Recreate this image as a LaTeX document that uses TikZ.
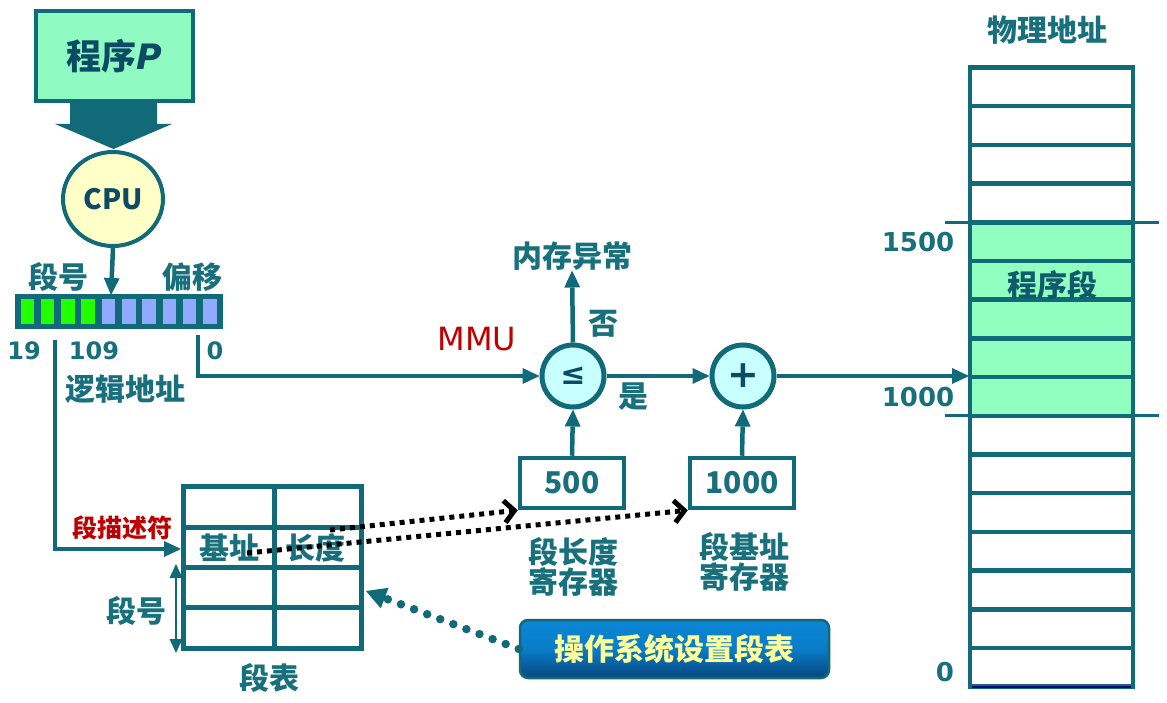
\documentclass[tikz,border=0pt]{standalone}
\usepackage{fontspec}
\setmainfont{DejaVu Sans}
\newfontfamily\cjk{Noto Sans CJK SC}
\newfontfamily\dv{DejaVu Sans}
\usetikzlibrary{arrows.meta,shapes.geometric}
\definecolor{tl}{HTML}{106A77}
\definecolor{tt}{HTML}{17707C}
\definecolor{navyt}{HTML}{0D4A63}
\definecolor{mint}{HTML}{8FFBC2}
\definecolor{memg}{HTML}{90FFC0}
\definecolor{cpuy}{HTML}{FFFFC8}
\definecolor{cyanf}{HTML}{C8FFFF}
\definecolor{gbit}{HTML}{22FF00}
\definecolor{bbit}{HTML}{8FAAFF}
\definecolor{redt}{HTML}{C00000}
\definecolor{btop}{HTML}{0A86D6}
\definecolor{bbot}{HTML}{07467C}
\definecolor{byel}{HTML}{FFFF99}
\definecolor{navyl}{HTML}{000080}
\begin{document}
\begin{tikzpicture}[x=1pt,y=-1pt,
  lab/.style={font=\cjk\bfseries\fontsize{30}{28}\selectfont, text=tt, inner sep=0pt},
  redlab/.style={font=\cjk\bfseries\fontsize{25}{27}\selectfont, text=redt, inner sep=0pt},
  num/.style={font=\dv\bfseries\fontsize{24}{26}\selectfont, text=tt, inner sep=0pt},
  bignum/.style={font=\dv\bfseries\fontsize{26}{28}\selectfont, text=tt, inner sep=0pt},
  conn/.style={draw=tl, line width=4.5pt, -{Triangle[length=17pt,width=16pt,line width=0pt]}},
  dotb/.style={draw=black, line width=5pt, dash pattern=on 5pt off 5pt, -{Straight Barb[length=10pt,width=22pt,line width=5pt]}},
  dott/.style={draw=tl, line width=8.5pt, dash pattern=on 0pt off 14pt, line cap=round, -{Triangle[length=20pt,width=22pt,line width=0pt]}},
  cellbox/.style={draw=tl, line width=4.5pt},
  regbox/.style={draw=tl, line width=4.5pt, minimum width=104pt, minimum height=50pt, inner sep=0pt, font=\cjk\bfseries\fontsize{30}{32}\selectfont, text=tt},
  opcirc/.style={circle, draw=tl, line width=5pt, fill=cyanf, minimum size=62pt, inner sep=0pt, text=navyt}
]
\useasboundingbox (0,0) rectangle (1167,703);

% program P and big arrow
\fill[tl] (70,100) -- (157,100) -- (157,124) -- (172,124) -- (113.5,149) -- (55,124) -- (70,124) -- cycle;
\node[draw=tl, line width=4pt, fill=mint, minimum width=157pt, minimum height=90pt, inner sep=0pt, text=navyt, font=\fontsize{35}{37}\selectfont] (prog) at (114.5,56) {{\cjk\bfseries 程序}{\dv\bfseries\itshape P}};

% CPU
\node[ellipse, draw=tl, line width=4pt, fill=cpuy, minimum width=100pt, minimum height=94pt, inner sep=0pt, text=navyt, font=\cjk\bfseries\fontsize{28}{30}\selectfont] (cpu) at (113,199) {CPU};

% register
\node[fill=tl, minimum width=208pt, minimum height=34pt, inner sep=0pt] (reg) at (118.5,311.5) {};
\foreach \i in {0,...,3} \fill[gbit] ({20.5+\i*20.3},299.5) rectangle ({34+\i*20.3},323.5);
\foreach \i in {4,...,9} \fill[bbit] ({20.5+\i*20.3},299.5) rectangle ({34+\i*20.3},323.5);
\coordinate (regtop) at (111,295);
\draw[conn] (cpu.south) -- (regtop);

\node[lab] (dh) at (58,277) {段号};
\node[lab] (py) at (192,277) {偏移};
\node[num] (n19) at (24,351) {19};
\node[num] (n109) at (94,351) {109};
\node[num] (n0) at (215,351) {0};
\node[lab] (ljdz) at (125,389) {逻辑地址};

% segment table
\draw[cellbox, line width=5pt] (183,486) rectangle (361,648);
\draw[cellbox, line width=5pt] (183,527) -- (361,527) (183,567) -- (361,567) (183,607) -- (361,607) (274,486) -- (274,648);
\node[lab] (jz) at (229,548) {基址};
\node[lab] (cd) at (315,548) {长度};
\node[lab] (dh2) at (136,611) {段号};
\node[lab] (db) at (269,678) {段表};
\node[redlab] (dmsf) at (122,528) {段描述符};
\coordinate (dtop) at (176,564);
\coordinate (dbot) at (176,653);
\draw[draw=tl, line width=2.5pt, {Triangle[length=14pt,width=13pt,line width=0pt]}-{Triangle[length=14pt,width=13pt,line width=0pt]}] (dtop) -- (dbot);

% MMU
\node[opcirc, font=\dv\bfseries\fontsize{30}{32}\selectfont] (le) at (573,376) {≤};
\node[opcirc, font=\dv\bfseries\fontsize{38}{40}\selectfont] (plus) at (743,376) {+};
\node[font=\dv\fontsize{32}{34}\selectfont, text=redt, inner sep=0pt] (mmu) at (477,339) {MMU};
\node[lab] (nc) at (572,256) {内存异常};
\node[lab] (fou) at (603,324) {否};
\node[lab] (shi) at (633,397) {是};
\node[regbox] (b500) at (572,483) {500};
\node[regbox] (b1000) at (742,483) {1000};
\node[lab, align=center] (lenreg) at (573,567) {段长度\\寄存器};
\node[lab, align=center] (basereg) at (744,562) {段基址\\寄存器};

% connectors
\coordinate (offs) at (198,335);
\draw[conn] (offs) |- (le.west);
\coordinate (segs) at (55,340);
\coordinate (tabin) at (181,549);
\draw[conn] (segs) |- (tabin);
\draw[conn] (le.north) -- (nc.south);
\draw[conn] (le.east) -- (plus.west);
\draw[conn] (b500.north) -- (le.south);
\draw[conn] (b1000.north) -- (plus.south);
\coordinate (memin) at (969,376);
\draw[conn] (plus.east) -- (memin);

% dotted
\coordinate (cds) at (330,530);
\coordinate (jzs) at (247,553);
\draw[dotb] (cds) -- (b500.south west);
\draw[dotb] (jzs) -- (b1000.south west);

% OS button
\node[draw=tl, line width=2.5pt, rounded corners=8pt, top color=btop, bottom color=bbot, middle color=btop!85!bbot, minimum width=309pt, minimum height=58pt, inner sep=0pt, text=byel, font=\cjk\bfseries\fontsize{30}{32}\selectfont] (os) at (674.5,649) {操作系统设置段表};
\coordinate (tabr) at (366,591);
\draw[dott] (os.west) -- (tabr);

% memory
\foreach \k in {0,1,2,3,9,10,11,12,13,14,15} \draw[cellbox, fill=white] (970,{67.5+\k*38.7}) rectangle (1133,{67.5+(\k+1)*38.7});
\foreach \k in {4,...,8} \draw[cellbox, fill=memg] (970,{67.5+\k*38.7}) rectangle (1133,{67.5+(\k+1)*38.7});
\draw[tl, line width=3pt] (945,222.3) -- (1159,222.3) (945,415.8) -- (1159,415.8);
\draw[navyl, line width=2.5pt] (972,687) -- (1131,687);
\node[lab] (wl) at (1047,30) {物理地址};
\node[lab, text=navyt!60!tt] (cxd) at (1052,285) {程序段};
\node[bignum] (m1500) at (918,242) {1500};
\node[bignum] (m1000) at (918,397) {1000};
\node[bignum] (m0) at (945,672) {0};
\end{tikzpicture}
\end{document}
